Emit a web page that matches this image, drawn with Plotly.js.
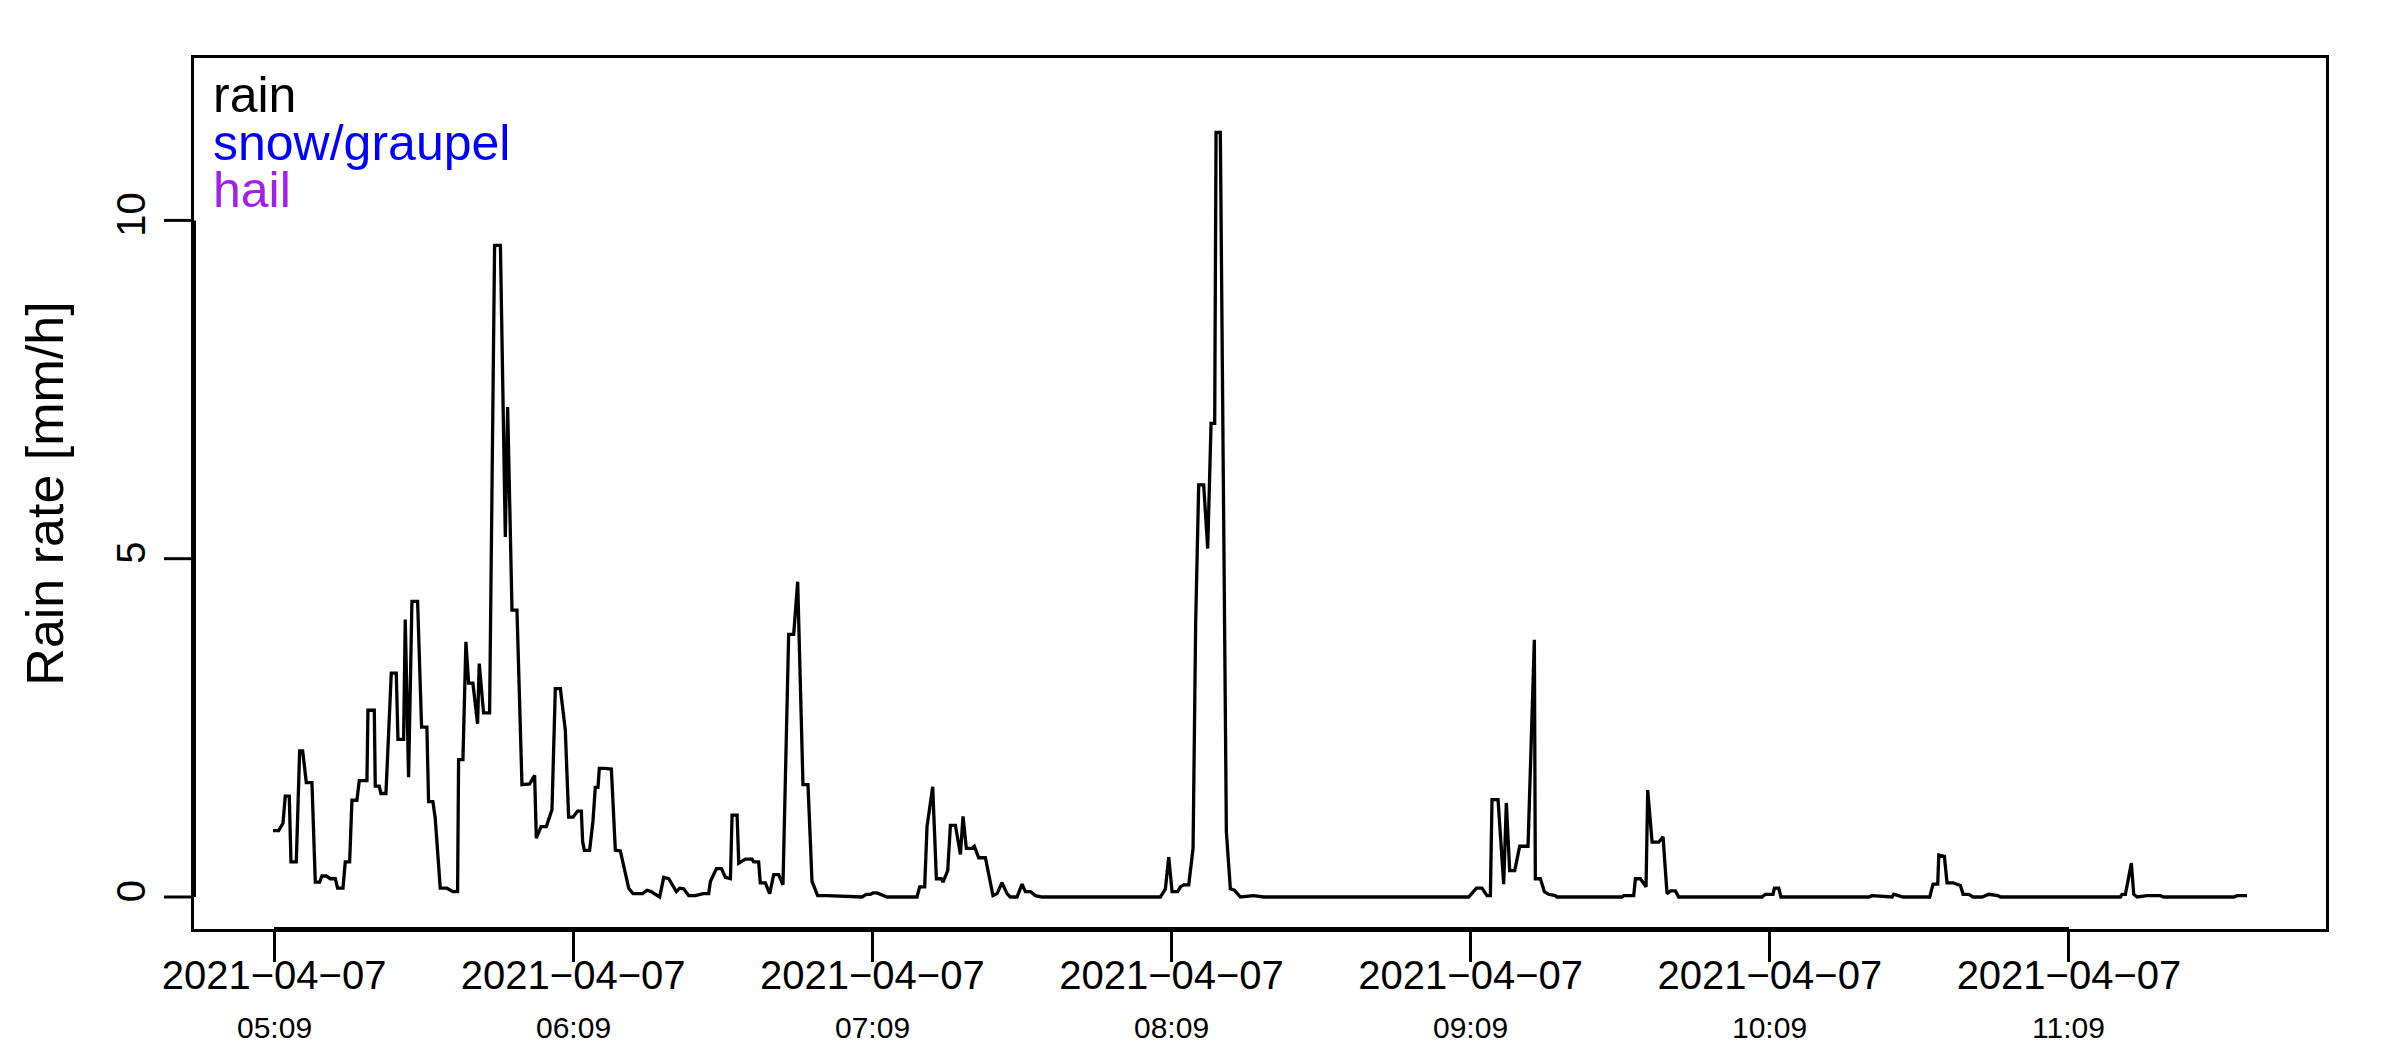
<!DOCTYPE html>
<html>
<head>
<meta charset="utf-8">
<script src="https://cdn.plot.ly/plotly-3.0.1.min.js"></script>
<style>
  html, body { margin: 0; padding: 0; background: #ffffff; }
  #chart { width: 2400px; height: 1050px; }
</style>
</head>
<body>
<div id="chart"></div>
<script>
// ---------------- data ----------------
// time of first sample
const startYear = 2021, startMonth = 4, startDay = 7;
const startClock = [5, 8, 47];

// minutes after the first sample
const offsetMinutes = [
  0.00, 1.14, 2.01, 2.47, 3.27, 3.61, 4.68, 5.35, 5.95, 6.69,
  7.82, 8.49, 9.36, 9.83, 10.70, 11.50, 12.50, 12.97, 14.04, 14.50,
  15.38, 15.84, 16.84, 17.31, 18.85, 19.05, 20.32, 20.52, 21.32, 21.65,
  22.66, 23.73, 24.73, 25.07, 26.20, 26.53, 27.20, 27.87, 29.01, 29.81,
  30.87, 31.21, 32.08, 32.55, 33.55, 34.89, 36.09, 37.03, 37.23, 38.10,
  38.70, 39.24, 40.10, 41.04, 41.37, 42.24, 43.45, 44.45, 45.62, 46.60,
  47.07, 47.94, 48.94, 49.94, 51.48, 52.48, 52.82, 53.76, 54.82, 55.96,
  56.63, 57.64, 58.63, 59.30, 60.17, 61.11, 61.85, 62.11, 62.45, 63.51,
  64.18, 64.65, 65.19, 65.46, 66.46, 67.87, 68.67, 69.67, 71.35, 72.22,
  74.15, 75.02, 75.83, 77.56, 78.37, 79.37, 80.91, 81.58, 82.38, 83.38,
  84.72, 86.27, 87.39, 87.73, 88.94, 89.94, 90.75, 91.75, 92.08, 93.09,
  93.42, 94.76, 96.08, 96.40, 97.41, 97.74, 98.75, 99.62, 100.43, 101.42,
  102.29, 103.43, 104.44, 105.24, 106.30, 107.31, 108.11, 109.25, 111.12, 118.14,
  119.01, 119.81, 120.35, 121.15, 123.16, 129.17, 129.71, 130.71, 131.18, 132.32,
  133.06, 134.06, 134.39, 135.33, 135.87, 136.87, 137.88, 138.40, 139.07, 140.21,
  140.68, 141.55, 142.89, 144.41, 145.22, 146.22, 147.23, 147.89, 149.23, 150.24,
  150.91, 151.91, 152.91, 154.25, 177.98, 178.99, 179.66, 180.33, 181.46, 181.99,
  182.66, 183.67, 184.54, 185.06, 185.67, 186.67, 187.48, 188.15, 188.88, 189.15,
  190.01, 191.22, 192.02, 192.83, 194.04, 196.71, 198.72, 239.82, 241.37, 242.49,
  243.50, 244.17, 244.50, 245.71, 246.84, 247.37, 248.04, 249.05, 250.05, 251.72,
  252.99, 253.19, 254.20, 255.00, 255.86, 257.20, 257.54, 270.58, 270.91, 272.92,
  273.26, 274.26, 275.39, 275.73, 276.60, 277.94, 278.80, 279.60, 280.27, 281.28,
  281.95, 298.65, 299.32, 300.86, 301.13, 302.00, 302.46, 320.05, 320.72, 324.73,
  325.07, 326.40, 326.94, 332.29, 332.96, 333.90, 334.10, 335.23, 335.76, 336.97,
  338.44, 338.98, 340.11, 340.98, 342.79, 344.13, 345.93, 346.46, 370.53, 370.86,
  371.53, 372.73, 373.20, 373.87, 375.88, 378.55, 379.22, 393.26, 393.93, 395.93
];

// rain rate [mm/h]
const rainRate = [
  0.98, 0.98, 1.09, 1.49, 1.49, 0.52, 0.52, 2.16, 2.16, 1.69,
  1.69, 0.22, 0.22, 0.31, 0.31, 0.27, 0.27, 0.13, 0.13, 0.52,
  0.52, 1.43, 1.43, 1.72, 1.72, 2.76, 2.76, 1.64, 1.64, 1.53,
  1.53, 3.31, 3.31, 2.33, 2.33, 4.10, 1.77, 4.37, 4.37, 2.51,
  2.51, 1.41, 1.41, 1.16, 0.13, 0.13, 0.08, 0.08, 2.03, 2.03,
  3.77, 3.16, 3.16, 2.56, 3.45, 2.72, 2.72, 9.63, 9.63, 5.32,
  7.24, 4.24, 4.24, 1.66, 1.67, 1.80, 0.87, 1.04, 1.04, 1.29,
  3.08, 3.08, 2.47, 1.18, 1.18, 1.27, 1.27, 0.82, 0.69, 0.69,
  1.12, 1.62, 1.62, 1.90, 1.90, 1.89, 0.69, 0.68, 0.13, 0.05,
  0.05, 0.10, 0.08, 0.00, 0.29, 0.27, 0.08, 0.13, 0.12, 0.02,
  0.02, 0.05, 0.05, 0.23, 0.42, 0.42, 0.29, 0.27, 1.21, 1.21,
  0.50, 0.56, 0.56, 0.52, 0.52, 0.21, 0.21, 0.05, 0.33, 0.33,
  0.18, 3.88, 3.88, 4.66, 1.66, 1.66, 0.23, 0.02, 0.02, 0.00,
  0.04, 0.04, 0.06, 0.06, 0.00, 0.00, 0.15, 0.15, 1.04, 1.63,
  0.27, 0.27, 0.22, 0.39, 1.06, 1.06, 0.63, 1.19, 0.72, 0.72,
  0.75, 0.58, 0.58, 0.02, 0.05, 0.21, 0.05, 0.00, 0.00, 0.19,
  0.08, 0.08, 0.02, 0.00, 0.00, 0.12, 0.59, 0.08, 0.08, 0.15,
  0.18, 0.18, 0.72, 4.04, 6.09, 6.09, 5.15, 7.00, 7.00, 11.30,
  11.30, 0.96, 0.12, 0.10, 0.00, 0.02, 0.00, 0.00, 0.13, 0.13,
  0.02, 0.02, 1.44, 1.44, 0.19, 1.39, 0.39, 0.39, 0.75, 0.75,
  3.80, 0.27, 0.27, 0.08, 0.04, 0.02, 0.00, 0.00, 0.02, 0.02,
  0.27, 0.27, 0.15, 1.58, 0.81, 0.81, 0.89, 0.05, 0.09, 0.09,
  0.00, 0.00, 0.04, 0.04, 0.13, 0.13, 0.00, 0.00, 0.02, 0.00,
  0.04, 0.02, 0.00, 0.00, 0.19, 0.19, 0.62, 0.60, 0.21, 0.21,
  0.17, 0.04, 0.04, 0.00, 0.00, 0.04, 0.02, 0.00, 0.00, 0.04,
  0.04, 0.50, 0.04, 0.00, 0.02, 0.02, 0.00, 0.00, 0.02, 0.02
];

// legend entries (text-coloured, as in the reference)
const seriesNames  = ['rain', 'snow/graupel', 'hail'];
const seriesColors = ['#000000', '#0000FF', '#A020F0'];

// x-axis ticks: date line (drawn with minus-sign dashes, as in the reference) and clock line
const tickDates = ['2021−04−07', '2021−04−07', '2021−04−07', '2021−04−07', '2021−04−07', '2021−04−07', '2021−04−07'];
const tickTimes = ['05:09', '06:09', '07:09', '08:09', '09:09', '10:09', '11:09'];
const tickDay = '2021-04-07';

// y-axis ticks
const yTicks = [0, 5, 10];
const yTickLabels = ['0', '5', '10'];

const yAxisTitle = 'Rain rate [mm/h]';

// ---------------- build ----------------
const pad2 = n => String(n).padStart(2, '0');
const baseMs = Date.UTC(startYear, startMonth - 1, startDay, startClock[0], startClock[1], startClock[2]);
function stamp(ms) {
  const d = new Date(ms);
  return d.getUTCFullYear() + '-' + pad2(d.getUTCMonth() + 1) + '-' + pad2(d.getUTCDate()) + ' ' +
         pad2(d.getUTCHours()) + ':' + pad2(d.getUTCMinutes()) + ':' + pad2(d.getUTCSeconds()) + '.' +
         String(d.getUTCMilliseconds()).padStart(3, '0');
}
const xTimes = offsetMinutes.map(m => stamp(baseMs + m * 60000));

// R-style 4% range extension on x
const tMin = Math.min(...offsetMinutes), tMax = Math.max(...offsetMinutes);
const tPad = 0.04 * (tMax - tMin);
const xRange = [stamp(baseMs + (tMin - tPad) * 60000), stamp(baseMs + (tMax + tPad) * 60000)];
const yRange = [-0.473, 12.40];

const tickVals = tickTimes.map(t => tickDay + ' ' + t + ':00');

const FONT = 'Liberation Sans, Arial, Helvetica, sans-serif';
const W = 2400, H = 1050;
const M = { l: 194, r: 74, t: 58, b: 121 };
const TICK_LEN = 30, TICK_W = 3;
const plotW = W - M.l - M.r;
// position of a y value as a fraction of the plot height (same linear scale as the y axis)
const yFrac = v => (v - yRange[0]) / (yRange[1] - yRange[0]);

const traces = [{
  type: 'scatter',
  mode: 'lines',
  x: xTimes,
  y: rainRate,
  name: seriesNames[0],
  line: { color: seriesColors[0], width: 3.3, shape: 'linear' },
  hoverinfo: 'x+y',
  showlegend: false
}];

const annotations = [];
// legend text
seriesNames.forEach((name, i) => {
  annotations.push({
    xref: 'paper', yref: 'paper', x: 0, y: 1,
    xanchor: 'left', yanchor: 'top',
    xshift: 17, yshift: -7 - i * 47.5,
    text: name, showarrow: false,
    font: { family: FONT, size: 50, color: seriesColors[i] }
  });
});
// clock line under each date tick label
tickVals.forEach((v, i) => {
  annotations.push({
    xref: 'x', yref: 'paper', x: v, y: 0,
    xanchor: 'center', yanchor: 'middle',
    yshift: -98,
    text: tickTimes[i], showarrow: false,
    font: { family: FONT, size: 30, color: '#000000' }
  });
});

// R draws the axis line only between first and last tick (over the box)
const shapes = [
  { type: 'line', xref: 'x', yref: 'paper', x0: tickVals[0], x1: tickVals[tickVals.length - 1], y0: 0, y1: 0,
    line: { color: '#000000', width: 4 } },
  { type: 'line', xref: 'paper', yref: 'paper', x0: 0, x1: 0,
    y0: yFrac(yTicks[0]), y1: yFrac(yTicks[yTicks.length - 1]),
    line: { color: '#000000', width: 4 } }
];
// y tick marks, pointing outward from the left axis
yTicks.forEach(v => {
  shapes.push({
    type: 'line', xref: 'paper', yref: 'paper',
    x0: -TICK_LEN / plotW, x1: 0, y0: yFrac(v), y1: yFrac(v),
    line: { color: '#000000', width: TICK_W }
  });
});

const layout = {
  width: W, height: H,
  margin: { l: M.l, r: M.r, t: M.t, b: M.b, pad: 0 },
  paper_bgcolor: '#ffffff', plot_bgcolor: '#ffffff',
  font: { family: FONT, size: 40, color: '#000000' },
  showlegend: false,
  xaxis: {
    type: 'date',
    range: xRange,
    tickmode: 'array', tickvals: tickVals, ticktext: tickDates,
    ticks: 'outside', ticklen: TICK_LEN, tickwidth: TICK_W, tickcolor: '#000000',
    ticklabelstandoff: -21,
    showline: true, linecolor: '#000000', linewidth: 3, mirror: true,
    showgrid: false, zeroline: false,
    tickfont: { family: FONT, size: 40, color: '#000000' },
    fixedrange: true
  },
  yaxis: {
    range: yRange,
    tickmode: 'array', tickvals: yTicks, ticktext: yTickLabels,
    tickangle: -90,
    ticks: '',
    ticklabelstandoff: 30,
    showline: true, linecolor: '#000000', linewidth: 3, mirror: true,
    showgrid: false, zeroline: false,
    tickfont: { family: FONT, size: 40, color: '#000000' },
    title: { text: yAxisTitle, font: { family: FONT, size: 52, color: '#000000' }, standoff: 29 },
    fixedrange: true
  },
  annotations: annotations,
  shapes: shapes
};

Plotly.newPlot('chart', traces, layout, { displayModeBar: false, staticPlot: true });
</script>
</body>
</html>
